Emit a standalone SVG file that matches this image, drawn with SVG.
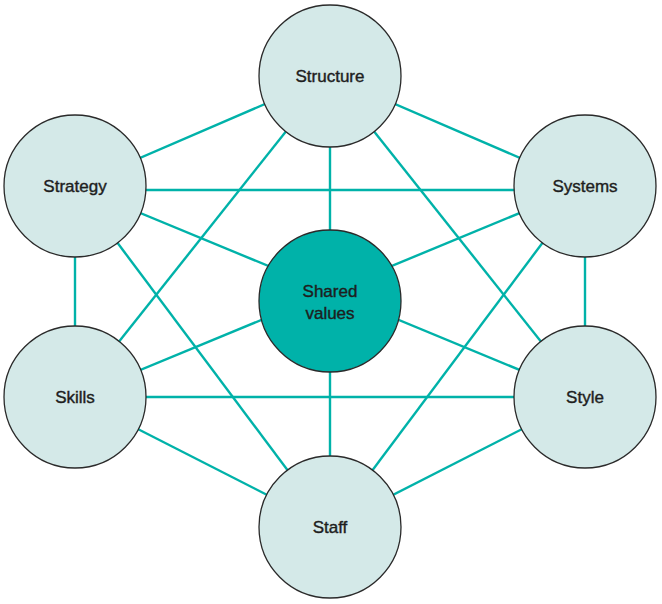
<svg xmlns="http://www.w3.org/2000/svg" width="662" height="604" viewBox="0 0 662 604">
<style>
.c{stroke:#00b2a9;stroke-width:2.4;fill:none}
.n{fill:#d4e9e8;stroke:#2a2a2a;stroke-width:1.3}
.s{fill:#00b2a9;stroke:#2a2a2a;stroke-width:1.3}
text{font-family:"Liberation Sans",Arial,sans-serif;font-size:17px;fill:#1e1e1e;stroke:#1e1e1e;stroke-width:0.4;text-anchor:middle}
</style>
<rect width="662" height="604" fill="#ffffff"/>
<g id="connectors">
<line class="c" x1="330" y1="76" x2="75" y2="186"/>
<line class="c" x1="330" y1="76" x2="585" y2="186"/>
<line class="c" x1="330" y1="76" x2="75" y2="397"/>
<line class="c" x1="330" y1="76" x2="585" y2="397"/>
<line class="c" x1="330" y1="76" x2="330" y2="527"/>
<line class="c" x1="75" y1="190" x2="585" y2="190"/>
<line class="c" x1="75" y1="186" x2="75" y2="397"/>
<line class="c" x1="75" y1="186" x2="330" y2="527"/>
<line class="c" x1="75" y1="186" x2="585" y2="397"/>
<line class="c" x1="585" y1="186" x2="585" y2="397"/>
<line class="c" x1="585" y1="186" x2="330" y2="527"/>
<line class="c" x1="585" y1="186" x2="75" y2="397"/>
<line class="c" x1="75" y1="397" x2="585" y2="397"/>
<line class="c" x1="75" y1="397" x2="330" y2="527"/>
<line class="c" x1="585" y1="397" x2="330" y2="527"/>
</g>
<g id="structure"><circle class="n" cx="330" cy="76" r="71"/><text x="330" y="82">Structure</text></g>
<g id="strategy"><circle class="n" cx="75" cy="186" r="71"/><text x="75" y="192">Strategy</text></g>
<g id="systems"><circle class="n" cx="585" cy="186" r="71"/><text x="585" y="192">Systems</text></g>
<g id="skills"><circle class="n" cx="75" cy="397" r="71"/><text x="75" y="403">Skills</text></g>
<g id="style"><circle class="n" cx="585" cy="397" r="71"/><text x="585" y="403">Style</text></g>
<g id="staff"><circle class="n" cx="330" cy="527" r="71"/><text x="330" y="533">Staff</text></g>
<g id="shared-values"><circle class="s" cx="330" cy="301" r="71"/><text x="330" y="297">Shared</text><text x="330" y="319">values</text></g>
</svg>
